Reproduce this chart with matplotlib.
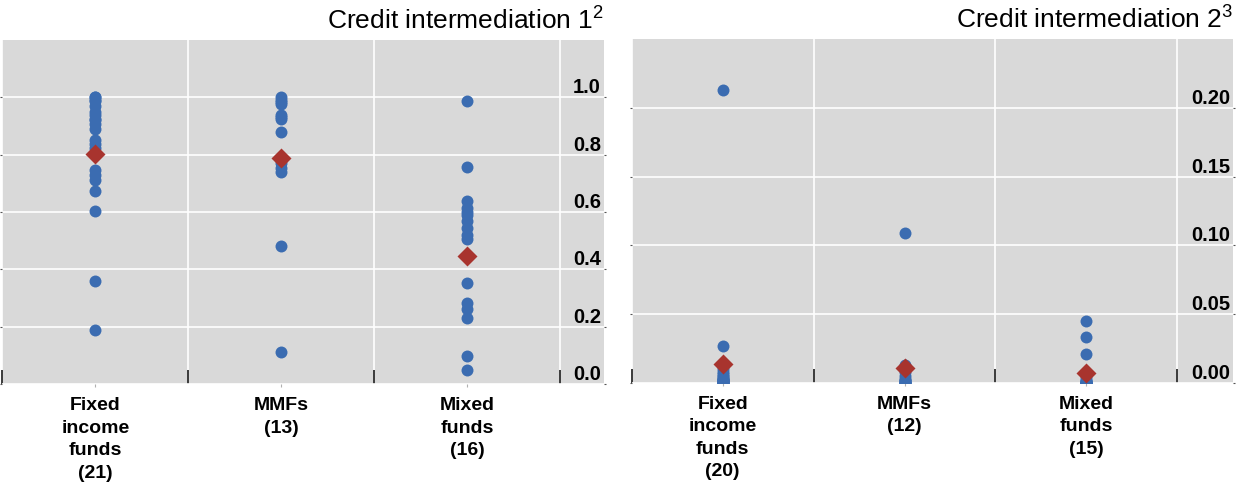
import matplotlib
matplotlib.use("Agg")
import matplotlib.pyplot as plt

plt.rcParams['font.family'] = ['Liberation Sans', 'DejaVu Sans']
plt.rcParams['mathtext.fontset'] = 'custom'
plt.rcParams['mathtext.rm'] = 'Liberation Sans'

# categories and values
cats_1 = ['Fixed\nincome\nfunds\n(21)', 'MMFs\n(13)', 'Mixed\nfunds\n(16)']
cats_2 = ['Fixed\nincome\nfunds\n(20)', 'MMFs\n(12)', 'Mixed\nfunds\n(15)']

fixed_1 = [1.0, 1.0, 0.99, 0.986, 0.971, 0.95, 0.94, 0.925, 0.92, 0.908, 0.89,
           0.85, 0.838, 0.824, 0.747, 0.73, 0.713, 0.672, 0.604, 0.36, 0.189]
mmf_1 = [1.0, 0.99, 0.985, 0.975, 0.94, 0.93, 0.925, 0.88, 0.77, 0.755, 0.74,
         0.48, 0.11]
mixed_1 = [0.987, 0.757, 0.637, 0.614, 0.60, 0.59, 0.567, 0.545, 0.52, 0.505,
           0.354, 0.284, 0.262, 0.231, 0.099, 0.049]
avg_1 = [0.803, 0.787, 0.445]

fixed_2 = [0.213, 0.027, 0.012, 0.010, 0.008, 0.006, 0.005, 0.004, 0.003, 0.003,
           0.002, 0.002, 0.001, 0.001, 0.001, 0.0, 0.0, 0.0, 0.0, 0.0]
mmf_2 = [0.109, 0.013, 0.008, 0.005, 0.003, 0.002, 0.001, 0.001, 0.0, 0.0, 0.0, 0.0]
mixed_2 = [0.045, 0.033, 0.021, 0.004, 0.002, 0.001, 0.001, 0.0, 0.0, 0.0,
           0.0, 0.0, 0.0, 0.0, 0.0]
avg_2 = [0.0136, 0.0105, 0.0068]

yticks_1 = [0.0, 0.2, 0.4, 0.6, 0.8, 1.0]
yticks_2 = [0.00, 0.05, 0.10, 0.15, 0.20]

BLUE = '#3b6cb1'
RED = '#a8342e'
BG = '#d9d9d9'

fig = plt.figure(figsize=(12.36, 4.86), dpi=100)
ax1 = fig.add_axes([0.00186, 0.2099, 0.4868, 0.7078])
ax2 = fig.add_axes([0.5111, 0.2126, 0.4865, 0.7066])

panels = [
    (ax1, [fixed_1, mmf_1, mixed_1], avg_1, cats_1, yticks_1, (0, 1.2), 2.735,
     r'Credit intermediation 1$^{\mathrm{2}}$', '%.1f'),
    (ax2, [fixed_2, mmf_2, mixed_2], avg_2, cats_2, yticks_2, (0, 0.25), 2.806,
     r'Credit intermediation 2$^{\mathrm{3}}$', '%.2f'),
]

for ax, groups, avg, cats, yt, ylim, xmax, title, fmt in panels:
    ax.set_facecolor(BG)
    for s in ax.spines.values():
        s.set_visible(False)

    # dots for each fund, diamond for the average
    for i, vals in enumerate(groups):
        ax.plot([i] * len(vals), vals, 'o', color=BLUE, ms=8.6, mec='none', zorder=3)
    ax.plot(range(len(avg)), avg, 'D', color=RED, ms=10.2, mec='none', zorder=4)

    ax.set_xlim(-0.5, xmax)
    ax.set_ylim(*ylim)

    # grid lines between categories, labels at the category centres
    ax.set_xticks([-0.5, 0.5, 1.5, 2.5])
    ax.set_xticklabels([])
    ax.set_xticks(range(len(cats)), minor=True)
    ax.set_xticklabels(cats, minor=True, fontsize=14, fontweight='bold',
                       linespacing=1.42)
    ax.tick_params(axis='x', which='major', direction='in', length=10, width=1.2,
                   color='#1a1a1a')
    ax.tick_params(axis='x', which='minor', direction='out', length=2, width=0.8,
                   color='#b0b0b0', pad=7.5)

    ax.set_yticks(yt)
    ax.set_yticklabels([fmt % v for v in yt])
    ax.tick_params(axis='y', left=True, right=True, labelleft=False, labelright=True,
                   direction='out', length=1.5, width=0.8, color='#555555',
                   pad=-3.7, labelsize=14.5)
    for lab in ax.get_yticklabels():
        lab.set_ha('right')
        lab.set_va('bottom')
        lab.set_fontweight('bold')

    ax.grid(True, which='major', color='white', linewidth=1.2)
    ax.set_axisbelow(True)

    ax.set_title(title, loc='right', fontsize=19, pad=8.5)

fig.savefig('out.png', dpi=100)
